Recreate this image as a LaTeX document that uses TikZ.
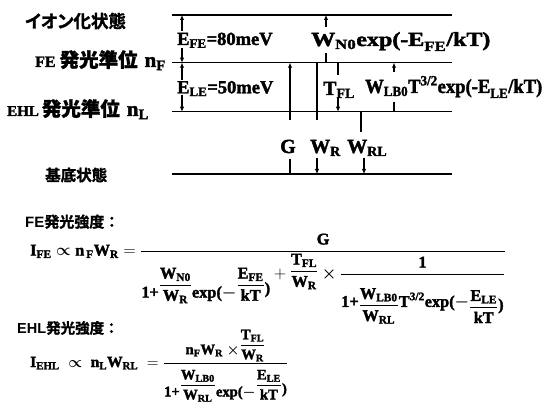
\documentclass[tikz,border=0pt]{standalone}
\usepackage{fix-cm}
\usepackage{amsmath}
\usepackage{graphicx}
\usepackage{fontspec}
\setmainfont{Liberation Serif}[BoldFeatures={FakeBold=2}]
\newfontfamily\cjk[FakeBold=1.5,RawFeature={+palt}]{Noto Sans CJK JP Bold}
\newfontfamily\cjkw[FakeBold=1.5]{Noto Sans CJK JP Bold}
\newfontfamily\sansb{Liberation Sans Bold}
\usetikzlibrary{arrows.meta}
\newcommand\tb[1]{\textbf{#1}}
\newcommand\bprop{\mathrel{\boldsymbol{\propto}}}
\newcommand\btimes{\mathbin{\boldsymbol{\times}}}
\newcommand\bminus{\boldsymbol{-}}
\newcommand\shiftm[2]{\raisebox{#1}{$\displaystyle#2$}}
\begin{document}
\begin{tikzpicture}[x=1pt,y=-1pt,
  level/.style={line width=1.5pt},
  seg/.style={line width=1.4pt},
  arr/.style={line width=1.4pt,-{Latex[length=5pt,width=4.5pt]}},
  lbl/.style={font=\fontsize{20}{24}\selectfont\bfseries,inner sep=0pt,anchor=base west},
  cjklbl/.style={inner sep=0pt,anchor=west},
  eq/.style={font=\fontsize{16.3}{19}\selectfont,inner sep=0pt,anchor=base west}]
\useasboundingbox (0,0) rectangle (549,409);
% levels
\coordinate (ionL) at (172,15);   \coordinate (ionR) at (452,15);
\coordinate (feL) at (172,62.7);  \coordinate (feR) at (452,62.7);
\coordinate (ehlL) at (172,111.7);\coordinate (ehlR) at (452,111.7);
\coordinate (gndL) at (172,174);  \coordinate (gndR) at (452,174);
\draw[level] (ionL) -- (ionR);
\draw[level] (feL) -- (feR);
\draw[level] (ehlL) -- (ehlR);
\draw[level] (gndL) -- (gndR);
% left labels
\node[cjklbl] (ion) at (25,21) {\cjk\fontsize{17.5}{20}\selectfont イオン化状態};
\node[inner sep=0pt,anchor=base west] (fe) at (35,67) {\fontsize{16}{18}\selectfont\bfseries FE\hspace{4pt}{\cjkw\fontsize{19.5}{22}\selectfont 発光準位}\hspace{7pt}\fontsize{21}{24}\selectfont n$_{\tb{F}}$};
\node[inner sep=0pt,anchor=base west] (ehl) at (7,116) {\fontsize{15}{18}\selectfont\bfseries EHL\hspace{3pt}{\cjkw\fontsize{19.5}{22}\selectfont 発光準位}\hspace{7pt}\fontsize{21}{24}\selectfont n$_{\tb{L}}$};
\node[cjklbl] (gnd) at (45,175) {\cjkw\fontsize{15.5}{18}\selectfont 基底状態};
% energy labels
\node[lbl,font=\fontsize{18.5}{22}\selectfont] (efe) at (177,45) {$\tb{E}_{\tb{FE}}\tb{=80meV}$};
\node[lbl,font=\fontsize{18.5}{22}\selectfont] (ele) at (177,93.3) {$\tb{E}_{\tb{LE}}\tb{=50meV}$};
\node[lbl] (wn0) at (311,46) {\scalebox{1.2}[1]{$\tb{W}_{\tb{N0}}\tb{exp(-E}_{\tb{FE}}\tb{/kT)}$}};
\node[lbl] (tfl) at (323,95) {$\tb{T}_{\tb{FL}}$};
\node[lbl] (wlb) at (365,93) {\scalebox{0.93}[1]{$\tb{W}_{\tb{LB0}}\tb{T}^{\tb{3/2}}\tb{exp(-E}_{\tb{LE}}\tb{/kT)}$}};
\node[lbl] (g) at (280,153) {\tb{G}};
\node[lbl] (wr) at (310,153) {$\tb{W}_{\tb{R}}$};
\node[lbl] (wrl) at (347,153) {$\tb{W}_{\tb{RL}}$};
% arrow end points
\coordinate (a1t) at (182,15);   \coordinate (a1m) at (182,31);  \coordinate (a1n) at (182,48); \coordinate (a1b) at (182,62.7);
\coordinate (a2m) at (182,80);   \coordinate (a2n) at (182,95);  \coordinate (a2b) at (182,111.7);
\coordinate (wn0t) at (326,15);  \coordinate (wn0m) at (326,27); \coordinate (wn0n) at (326,53); \coordinate (wn0b) at (326,62.7);
\coordinate (gt) at (290,62.7);  \coordinate (gm) at (290,120);  \coordinate (gn) at (290,159);  \coordinate (gb) at (290,174);
\coordinate (wrt) at (317,62.7); \coordinate (wrm) at (317,120); \coordinate (wrn) at (317,158); \coordinate (wrb) at (317,174);
\coordinate (wrlt) at (361,111.7); \coordinate (wrlm) at (361,131.7); \coordinate (wrln) at (364,158); \coordinate (wrlb) at (364,174);
\coordinate (tflt) at (338,62.7); \coordinate (tflm) at (338,75); \coordinate (tfln) at (338,97); \coordinate (tflb) at (338,111.7);
\coordinate (wlbt) at (394,62.7); \coordinate (wlbm) at (394,72); \coordinate (wlbn) at (394,101.7); \coordinate (wlbb) at (394,111.7);
% arrows
\draw[arr] (a1m) -- (a1t);  \draw[arr] (a1n) -- (a1b);
\draw[arr] (a2m) -- (a1b);  \draw[arr] (a2n) -- (a2b);
\draw[arr] (wn0m) -- (wn0t); \draw[seg] (wn0n) -- (wn0b);
\draw[arr] (gm) -- (gt);    \draw[seg] (gn) -- (gb);
\draw[seg] (wrt) -- (wrm);  \draw[arr] (wrn) -- (wrb);
\draw[seg] (wrlt) -- (wrlm); \draw[arr] (wrln) -- (wrlb);
\draw[seg] (tflt) -- (tflm); \draw[arr] (tfln) -- (tflb);
\draw[arr] (wlbm) -- (wlbt); \draw[seg] (wlbn) -- (wlbb);
% formulas
\node[inner sep=0pt,anchor=west] (felbl) at (25,221.7) {\sansb\fontsize{15}{18}\selectfont FE{\cjkw 発光強度：}};
\node[eq] (ife) at (30,255.5) {$\tb{I}_{\tb{FE}}\bprop\tb{n}_{\,\tb{F}}\tb{W}_{\tb{R}} = \dfrac{\tb{G}}{\shiftm{-11pt}{\shiftm{-8pt}{\tb{1+}}\dfrac{\tb{W}_{\tb{N0}}}{\tb{W}_{\tb{R}}}\shiftm{-8pt}{\tb{exp(}\bminus}\dfrac{\tb{E}_{\tb{FE}}}{\tb{kT}}\shiftm{-4pt}{\tb{)}}}+\shiftm{3pt}{\dfrac{\tb{T}_{\tb{FL}}}{\tb{W}_{\tb{R}}}}\btimes\dfrac{\tb{1}\rule[-4pt]{0pt}{4pt}}{\rule{0pt}{27pt}\shiftm{-3pt}{\tb{1+}}\shiftm{-6pt}{\dfrac{\tb{W}_{\tb{LB0}}}{\tb{W}_{\tb{RL}}}}\shiftm{-3pt}{\tb{T}^{\tb{3/2}}\tb{exp(}\bminus}\shiftm{-8pt}{\dfrac{\tb{E}_{\tb{LE}}}{\tb{kT}}}\shiftm{-6pt}{\tb{)}}}}$};
\node[inner sep=0pt,anchor=west] (ehllbl) at (17,328) {\sansb\fontsize{14.5}{18}\selectfont EHL{\cjkw 発光強度：}};
\node[eq,font=\fontsize{15.5}{19}\selectfont] (iehl) at (30,367) {$\tb{I}_{\tb{EHL}}\;\bprop\;\tb{n}_{\tb{L}}\tb{W}_{\tb{RL}}\; = \text{\fontsize{14.6}{17}\selectfont$\displaystyle\dfrac{\shiftm{-5pt}{\tb{n}_{\tb{F}}\tb{W}_{\tb{R}}\ \btimes}\dfrac{\tb{T}_{\tb{FL}}}{\tb{W}_{\tb{R}}}}{\rule{0pt}{24pt}\shiftm{-7pt}{\tb{1+}}\dfrac{\tb{W}_{\tb{LB0}}}{\tb{W}_{\tb{RL}}}\shiftm{-7pt}{\tb{exp(}\bminus}\dfrac{\tb{E}_{\tb{LE}}}{\tb{kT}}\shiftm{-4pt}{\tb{)}}}$}$};
\end{tikzpicture}
\end{document}
